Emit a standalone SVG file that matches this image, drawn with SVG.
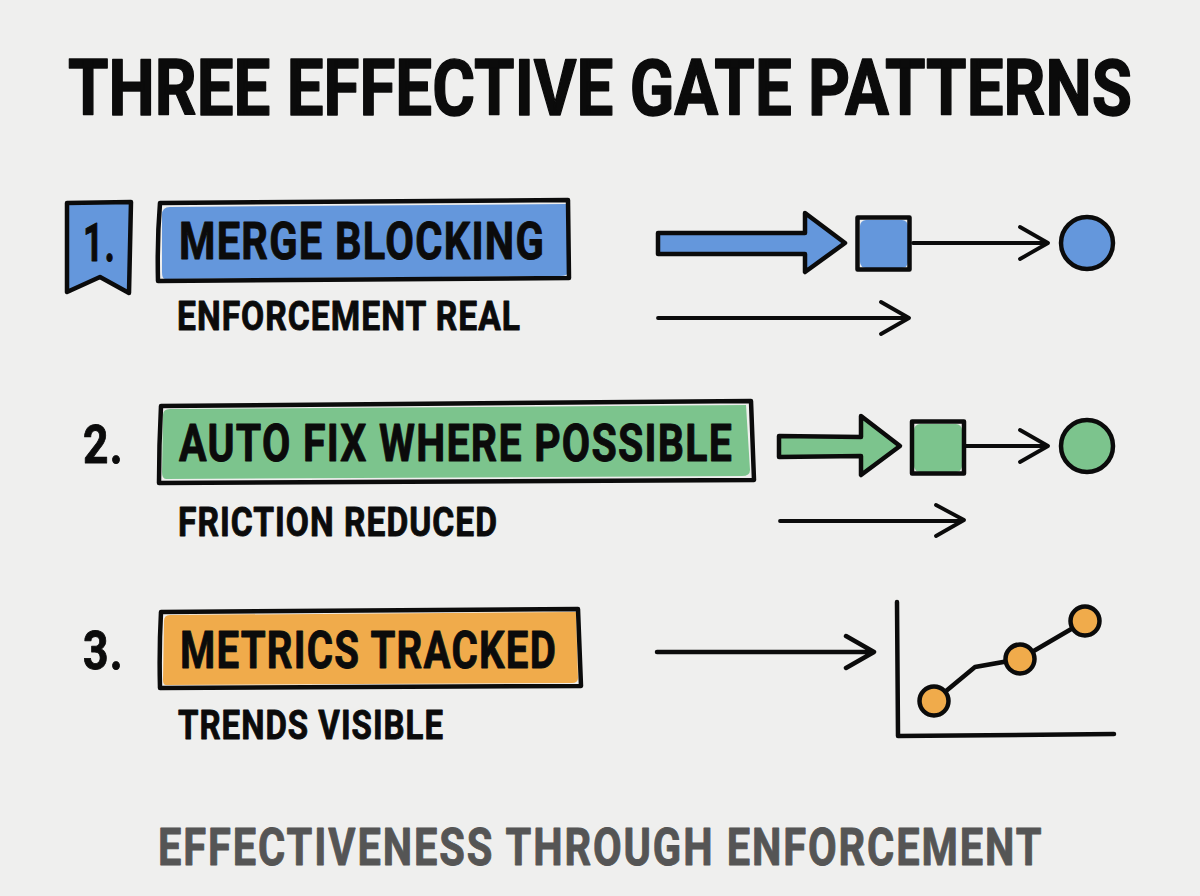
<svg xmlns="http://www.w3.org/2000/svg" width="1200" height="896" viewBox="0 0 1200 896">
<style>
text{font-family:"Roboto","Liberation Sans",sans-serif;font-weight:700;fill:#0b0b0b;stroke:#0b0b0b;stroke-width:.9;stroke-linejoin:round;letter-spacing:.03em}
.o{fill:none;stroke:#0b0b0b;stroke-width:4.5;stroke-linejoin:round;stroke-linecap:round}
.w{fill:none;stroke:#0b0b0b;stroke-width:3.8;stroke-linejoin:round;stroke-linecap:round}
.b{fill:#6497dc}.g{fill:#7cc48d}.y{fill:#f0ab4b}
.lbl{font-size:52px}.sub{font-size:41px}.num{font-size:54px}
</style>
<rect width="1200" height="896" fill="#efefee"/>
<g id="title"><text transform="translate(68 115) scale(.85 1)" x="0" y="0" font-size="77" style="stroke-width:1.4" textLength="1254" lengthAdjust="spacing">THREE EFFECTIVE GATE PATTERNS</text></g>

<g id="badge-1">
<path class="b" d="M68 204L130 203L128 291L100 277L67 291Z"/>
<path class="o" d="M67 203L131 202L129 293L100 277L67 292Z"/>
<text class="num" x="83" y="261" textLength="33" lengthAdjust="spacingAndGlyphs">1.</text>
</g>
<g id="merge-blocking">
<path class="b" d="M170 207L566 204L568 272Q568 276 560 276L165 279Q162 279 162 272L162 215Q162 207 170 207Z"/>
<path class="o" d="M160 203L568 200L569 278L158 281Q157 240 160 203Z"/>
<text class="lbl" x="179" y="259" textLength="366" lengthAdjust="spacingAndGlyphs">MERGE BLOCKING</text>
</g>
<g id="enforcement-real"><text class="sub" x="177" y="330" textLength="344" lengthAdjust="spacingAndGlyphs">ENFORCEMENT REAL</text></g>

<g id="number-2"><text class="num" x="83" y="463" textLength="41" lengthAdjust="spacingAndGlyphs">2.</text></g>
<g id="auto-fix">
<path class="g" d="M170 409L746 405L750 470Q750 476 742 476L166 479Q162 479 162 472L163 415Q163 409 170 409Z"/>
<path class="o" d="M161 406L751 401L754 480L159 483Q159 445 161 406Z"/>
<text class="lbl" x="179" y="461" textLength="554" lengthAdjust="spacingAndGlyphs">AUTO FIX WHERE POSSIBLE</text>
</g>
<g id="friction-reduced"><text class="sub" x="178" y="536" textLength="320" lengthAdjust="spacingAndGlyphs">FRICTION REDUCED</text></g>

<g id="number-3"><text class="num" x="83" y="669" textLength="41" lengthAdjust="spacingAndGlyphs">3.</text></g>
<g id="metrics-tracked">
<path class="y" d="M170 615L576 612L578 678Q578 683 572 683L166 685Q163 685 163 680L164 621Q164 615 170 615Z"/>
<path class="o" d="M161 612L578 609L581 686L160 688Q159 650 161 612Z"/>
<text class="lbl" x="180" y="668" textLength="377" lengthAdjust="spacingAndGlyphs">METRICS TRACKED</text>
</g>
<g id="trends-visible"><text class="sub" x="178" y="739" textLength="266" lengthAdjust="spacingAndGlyphs">TRENDS VISIBLE</text></g>

<g id="blue-block-arrow">
<path class="b" d="M660 235L806 235L806 215L843 243L806 271L806 252L660 253Z"/>
<path class="o" d="M658 233L805 233L805 213L845 243L805 272L805 254L658 254Z"/>
</g>
<g id="blue-square"><rect class="b" x="860" y="220" width="48" height="48" rx="6"/><rect class="o" x="857.500" y="217.500" width="52" height="52"/></g>
<g id="blue-circle"><circle class="b" cx="1087" cy="243" r="25"/><circle class="o" cx="1087" cy="243" r="26"/></g>
<g id="green-block-arrow">
<path class="g" d="M781 437L862 438L862 418L898 446L862 473L862 456L781 456Z"/>
<path class="o" d="M779 436L861 437L861 416L900 446L861 475L861 456L779 457Z"/>
</g>
<g id="green-square"><rect class="g" x="914" y="424" width="48" height="48" rx="6"/><rect class="o" x="912" y="421.500" width="52" height="52"/></g>
<g id="green-circle"><circle class="g" cx="1087" cy="446" r="25"/><circle class="o" cx="1087" cy="446" r="26"/></g>

<g id="connectors">
<path class="w" d="M913 243L1047 243M1020 227L1048 243L1020 259"/>
<path class="w" d="M658 318L908 318M881 302L909 318L881 334"/>
<path class="w" d="M966 446L1047 446M1020 430L1048 446L1020 462"/>
<path class="w" d="M780 521L962 521M936 505L964 520L936 536"/>
<path class="o" d="M657 652L873 652M846 636L874 652L846 668"/>
</g>

<g id="chart">
<path class="o" d="M897 602L898 736L1114 734"/>
<path class="o" d="M934 701L975 667L1020 659L1085 621"/>
<circle class="y" cx="934" cy="701" r="14.500"/><circle class="o" cx="934" cy="701" r="14.500"/>
<circle class="y" cx="1020" cy="659" r="14.500"/><circle class="o" cx="1020" cy="659" r="14.500"/>
<circle class="y" cx="1085" cy="621" r="14.500"/><circle class="o" cx="1085" cy="621" r="14.500"/>
</g>

<g id="footer"><text transform="translate(158 865) scale(.8 1)" x="0" y="0" font-size="52" style="fill:#555;stroke:#555" textLength="1106" lengthAdjust="spacing">EFFECTIVENESS THROUGH ENFORCEMENT</text></g>
</svg>
